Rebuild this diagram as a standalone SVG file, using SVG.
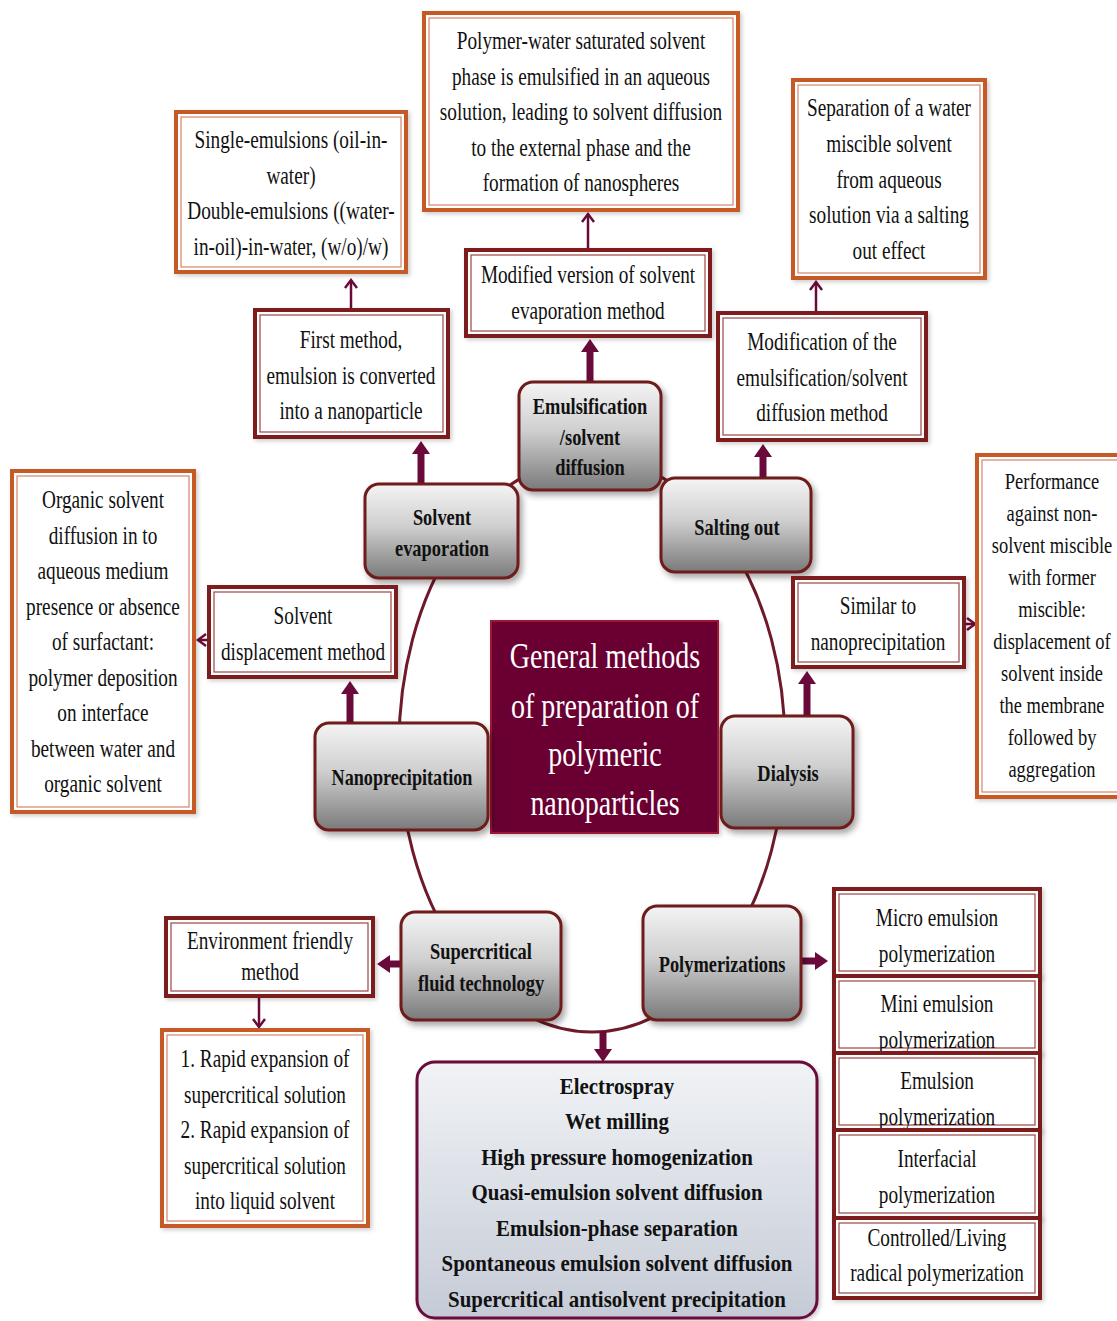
<svg xmlns="http://www.w3.org/2000/svg" width="1117" height="1321" viewBox="0 0 1117 1321">
<defs>
<linearGradient id="gray" x1="0" y1="0" x2="0" y2="1">
<stop offset="0" stop-color="#f4f4f4"/><stop offset="0.45" stop-color="#cfcfcf"/><stop offset="1" stop-color="#7a7a7a"/>
</linearGradient>
<linearGradient id="blue" x1="0" y1="0" x2="0" y2="1">
<stop offset="0" stop-color="#f1f3f6"/><stop offset="1" stop-color="#c5cbd6"/>
</linearGradient>
<filter id="sh" x="-10%" y="-10%" width="130%" height="130%">
<feDropShadow dx="3" dy="4" stdDeviation="3" flood-color="#000" flood-opacity="0.35"/>
</filter>
<filter id="sh2" x="-10%" y="-10%" width="130%" height="130%">
<feDropShadow dx="2" dy="2" stdDeviation="2" flood-color="#000" flood-opacity="0.2"/>
</filter>
<marker id="thick" markerUnits="userSpaceOnUse" markerWidth="16" markerHeight="18" refX="1" refY="9" orient="auto">
<path d="M0,0 L13,9 L0,18 z" fill="#6A0A3A"/>
</marker>
<marker id="thin" markerUnits="userSpaceOnUse" markerWidth="12" markerHeight="14" refX="9" refY="7" orient="auto">
<path d="M1,1 L9,7 L1,13" fill="none" stroke="#6A0A3A" stroke-width="2.5"/>
</marker>
<style>
.ob{fill:#fff;stroke:#C55A28;stroke-width:4;filter:url(#sh2)}
.obi{fill:none;stroke:#D9846A;stroke-width:1.2}
.rb{fill:#fff;stroke:#7B1D1D;stroke-width:4;filter:url(#sh2)}
.rbi{fill:none;stroke:#9B4545;stroke-width:1.2}
.gn{fill:url(#gray);stroke:#6E1A1A;stroke-width:3;filter:url(#sh)}
.t{font-family:"Liberation Serif","Times New Roman",serif;font-size:25px;fill:#111;text-anchor:middle}
.tb{font-family:"Liberation Serif","Times New Roman",serif;font-size:23px;font-weight:bold;fill:#111;text-anchor:middle}
.tl{font-family:"Liberation Serif","Times New Roman",serif;font-size:24px;font-weight:bold;fill:#111;text-anchor:middle}
.tt{font-family:"Liberation Serif","Times New Roman",serif;font-size:35px;fill:#fff;text-anchor:middle}
.ck{fill:none;stroke:#6A0A3A;stroke-width:7;marker-end:url(#thick)}
.cn{fill:none;stroke:#6A0A3A;stroke-width:2.5;marker-end:url(#thin)}
.ring{fill:none;stroke:#6E1A2A;stroke-width:3}
</style>
</defs>
<rect width="1117" height="1321" fill="#fff"/>

<g id="connectors">
<ellipse class="ring" cx="592" cy="745" rx="193" ry="287"/>
<line class="ck" x1="421" y1="484" x2="421" y2="453"/>
<line class="ck" x1="590" y1="382" x2="590" y2="351"/>
<line class="ck" x1="763" y1="478" x2="763" y2="456"/>
<line class="ck" x1="350" y1="723" x2="350" y2="693"/>
<line class="ck" x1="807" y1="716" x2="807" y2="683"/>
<line class="ck" x1="401" y1="964" x2="389" y2="964"/>
<line class="ck" x1="801" y1="961" x2="816" y2="961"/>
<line class="ck" x1="603" y1="1031" x2="603" y2="1050"/>
<line class="cn" x1="351" y1="310" x2="351" y2="280"/>
<line class="cn" x1="588" y1="250" x2="588" y2="214"/>
<line class="cn" x1="816" y1="313" x2="816" y2="282"/>
<line class="cn" x1="209" y1="640" x2="198" y2="640"/>
<line class="cn" x1="964" y1="624" x2="975" y2="624"/>
<line class="cn" x1="259" y1="996" x2="259" y2="1027"/>
</g>

<g id="box-emulsions">
<rect class="ob" x="176" y="112" width="230" height="160"/>
<rect class="obi" x="181" y="117" width="220" height="150"/>
<text class="t" transform="translate(291,0) scale(0.77,1)"><tspan x="0" y="148">Single-emulsions (oil-in-</tspan><tspan x="0" y="184">water)</tspan><tspan x="0" y="219">Double-emulsions ((water-</tspan><tspan x="0" y="255">in-oil)-in-water, (w/o)/w)</tspan></text>
</g>

<g id="box-polymer-water">
<rect class="ob" x="424" y="13" width="314" height="197"/>
<rect class="obi" x="429" y="18" width="304" height="187"/>
<text class="t" transform="translate(581,0) scale(0.77,1)"><tspan x="0" y="49">Polymer-water saturated solvent</tspan><tspan x="0" y="85">phase is emulsified in an aqueous</tspan><tspan x="0" y="120">solution, leading to solvent diffusion</tspan><tspan x="0" y="156">to the external phase and the</tspan><tspan x="0" y="191">formation of nanospheres</tspan></text>
</g>

<g id="box-separation">
<rect class="ob" x="793" y="80" width="192" height="198"/>
<rect class="obi" x="798" y="85" width="182" height="188"/>
<text class="t" transform="translate(889,0) scale(0.77,1)"><tspan x="0" y="116">Separation of a water</tspan><tspan x="0" y="152">miscible solvent</tspan><tspan x="0" y="188">from aqueous</tspan><tspan x="0" y="223">solution via a salting</tspan><tspan x="0" y="259">out effect</tspan></text>
</g>

<g id="box-modified">
<rect class="rb" x="466" y="250" width="244" height="86"/>
<rect class="rbi" x="471" y="255" width="234" height="76"/>
<text class="t" transform="translate(588,0) scale(0.77,1)"><tspan x="0" y="283">Modified version of solvent</tspan><tspan x="0" y="319">evaporation method</tspan></text>
</g>

<g id="box-first-method">
<rect class="rb" x="255" y="310" width="193" height="127"/>
<rect class="rbi" x="260" y="315" width="183" height="117"/>
<text class="t" transform="translate(351,0) scale(0.77,1)"><tspan x="0" y="348">First method,</tspan><tspan x="0" y="384">emulsion is converted</tspan><tspan x="0" y="419">into a nanoparticle</tspan></text>
</g>

<g id="box-modification">
<rect class="rb" x="718" y="313" width="208" height="127"/>
<rect class="rbi" x="723" y="318" width="198" height="117"/>
<text class="t" transform="translate(822,0) scale(0.77,1)"><tspan x="0" y="350">Modification of the</tspan><tspan x="0" y="386">emulsification/solvent</tspan><tspan x="0" y="421">diffusion method</tspan></text>
</g>

<g id="node-emulsification">
<rect class="gn" x="519" y="382" width="142" height="108" rx="14"/>
<text class="tb" transform="translate(590,0) scale(0.8,1)"><tspan x="0" y="414">Emulsification</tspan><tspan x="0" y="445">/solvent</tspan><tspan x="0" y="475">diffusion</tspan></text>
</g>

<g id="node-solvent-evaporation">
<rect class="gn" x="365" y="484" width="153" height="94" rx="14"/>
<text class="tb" transform="translate(442,0) scale(0.8,1)"><tspan x="0" y="525">Solvent</tspan><tspan x="0" y="556">evaporation</tspan></text>
</g>

<g id="node-salting-out">
<rect class="gn" x="661" y="478" width="150" height="94" rx="14"/>
<text class="tb" transform="translate(737,0) scale(0.8,1)"><tspan x="0" y="535">Salting out</tspan></text>
</g>

<g id="box-similar">
<rect class="rb" x="793" y="578" width="171" height="89"/>
<rect class="rbi" x="798" y="583" width="161" height="79"/>
<text class="t" transform="translate(878,0) scale(0.77,1)"><tspan x="0" y="614">Similar to</tspan><tspan x="0" y="650">nanoprecipitation</tspan></text>
</g>

<g id="box-solvent-displacement">
<rect class="rb" x="209" y="587" width="187" height="90"/>
<rect class="rbi" x="214" y="592" width="177" height="80"/>
<text class="t" transform="translate(303,0) scale(0.77,1)"><tspan x="0" y="624">Solvent</tspan><tspan x="0" y="660">displacement method</tspan></text>
</g>

<g id="box-organic-solvent">
<rect class="ob" x="12" y="471" width="182" height="341"/>
<rect class="obi" x="17" y="476" width="172" height="331"/>
<text class="t" transform="translate(103,0) scale(0.77,1)"><tspan x="0" y="508">Organic solvent</tspan><tspan x="0" y="544">diffusion in to</tspan><tspan x="0" y="579">aqueous medium</tspan><tspan x="0" y="615">presence or absence</tspan><tspan x="0" y="650">of surfactant:</tspan><tspan x="0" y="686">polymer deposition</tspan><tspan x="0" y="721">on interface</tspan><tspan x="0" y="757">between water and</tspan><tspan x="0" y="792">organic solvent</tspan></text>
</g>

<g id="box-performance">
<rect class="ob" x="977" y="455" width="145" height="342"/>
<rect class="obi" x="982" y="460" width="140" height="332"/>
<text class="t" style="font-size:24px" transform="translate(1052,0) scale(0.77,1)"><tspan x="0" y="489">Performance</tspan><tspan x="0" y="521">against non-</tspan><tspan x="0" y="553">solvent miscible</tspan><tspan x="0" y="585">with former</tspan><tspan x="0" y="617">miscible:</tspan><tspan x="0" y="649">displacement of</tspan><tspan x="0" y="681">solvent inside</tspan><tspan x="0" y="713">the membrane</tspan><tspan x="0" y="745">followed by</tspan><tspan x="0" y="777">aggregation</tspan></text>
</g>

<g id="node-center">
<rect x="491" y="621" width="227" height="212" fill="#6B0033" stroke="#A01830" stroke-width="2" filter="url(#sh2)"/>
<text class="tt" transform="translate(605,0) scale(0.8,1)"><tspan x="0" y="668">General methods</tspan><tspan x="0" y="718">of preparation of</tspan><tspan x="0" y="766">polymeric</tspan><tspan x="0" y="815">nanoparticles</tspan></text>
</g>

<g id="node-nanoprecipitation">
<rect class="gn" x="315" y="723" width="173" height="107" rx="14"/>
<text class="tb" transform="translate(402,0) scale(0.79,1)"><tspan x="0" y="785">Nanoprecipitation</tspan></text>
</g>

<g id="node-dialysis">
<rect class="gn" x="721" y="716" width="132" height="112" rx="14"/>
<text class="tb" transform="translate(788,0) scale(0.8,1)"><tspan x="0" y="781">Dialysis</tspan></text>
</g>

<g id="node-supercritical">
<rect class="gn" x="401" y="912" width="160" height="108" rx="14"/>
<text class="tb" transform="translate(481,0) scale(0.8,1)"><tspan x="0" y="959">Supercritical</tspan><tspan x="0" y="991">fluid technology</tspan></text>
</g>

<g id="node-polymerizations">
<rect class="gn" x="643" y="906" width="158" height="114" rx="14"/>
<text class="tb" transform="translate(722,0) scale(0.8,1)"><tspan x="0" y="972">Polymerizations</tspan></text>
</g>

<g id="box-environment">
<rect class="rb" x="166" y="918" width="207" height="78"/>
<rect class="rbi" x="171" y="923" width="197" height="68"/>
<text class="t" transform="translate(270,0) scale(0.77,1)"><tspan x="0" y="949">Environment friendly</tspan><tspan x="0" y="980">method</tspan></text>
</g>

<g id="box-rapid-expansion">
<rect class="ob" x="162" y="1030" width="206" height="196"/>
<rect class="obi" x="167" y="1035" width="196" height="186"/>
<text class="t" transform="translate(265,0) scale(0.77,1)"><tspan x="0" y="1067">1. Rapid expansion of</tspan><tspan x="0" y="1103">supercritical solution</tspan><tspan x="0" y="1138">2.  Rapid  expansion of</tspan><tspan x="0" y="1174">supercritical solution</tspan><tspan x="0" y="1209">into liquid solvent</tspan></text>
</g>

<g id="box-other-methods">
<rect x="417" y="1062" width="400" height="256" rx="18" fill="url(#blue)" stroke="#6A0A3A" stroke-width="3" filter="url(#sh2)"/>
<text class="tl" transform="translate(617,0) scale(0.87,1)"><tspan x="0" y="1094">Electrospray</tspan><tspan x="0" y="1129">Wet milling</tspan><tspan x="0" y="1165">High pressure homogenization</tspan><tspan x="0" y="1200">Quasi-emulsion solvent diffusion</tspan><tspan x="0" y="1236">Emulsion-phase separation</tspan><tspan x="0" y="1271">Spontaneous emulsion solvent diffusion</tspan><tspan x="0" y="1307">Supercritical antisolvent precipitation</tspan></text>
</g>

<g id="box-micro-emulsion">
<rect class="rb" x="834" y="889" width="206" height="87"/>
<rect class="rbi" x="839" y="894" width="196" height="77"/>
<text class="t" transform="translate(937,0) scale(0.77,1)"><tspan x="0" y="926">Micro emulsion</tspan><tspan x="0" y="962">polymerization</tspan></text>
</g>
<g id="box-mini-emulsion">
<rect class="rb" x="834" y="976" width="206" height="77"/>
<rect class="rbi" x="839" y="981" width="196" height="67"/>
<text class="t" transform="translate(937,0) scale(0.77,1)"><tspan x="0" y="1012">Mini emulsion</tspan><tspan x="0" y="1048">polymerization</tspan></text>
</g>
<g id="box-emulsion">
<rect class="rb" x="834" y="1053" width="206" height="77"/>
<rect class="rbi" x="839" y="1058" width="196" height="67"/>
<text class="t" transform="translate(937,0) scale(0.77,1)"><tspan x="0" y="1089">Emulsion</tspan><tspan x="0" y="1125">polymerization</tspan></text>
</g>
<g id="box-interfacial">
<rect class="rb" x="834" y="1130" width="206" height="88"/>
<rect class="rbi" x="839" y="1135" width="196" height="78"/>
<text class="t" transform="translate(937,0) scale(0.77,1)"><tspan x="0" y="1167">Interfacial</tspan><tspan x="0" y="1203">polymerization</tspan></text>
</g>
<g id="box-controlled">
<rect class="rb" x="834" y="1218" width="206" height="80"/>
<rect class="rbi" x="839" y="1223" width="196" height="70"/>
<text class="t" transform="translate(937,0) scale(0.77,1)"><tspan x="0" y="1246">Controlled/Living</tspan><tspan x="0" y="1281">radical polymerization</tspan></text>
</g>
</svg>
